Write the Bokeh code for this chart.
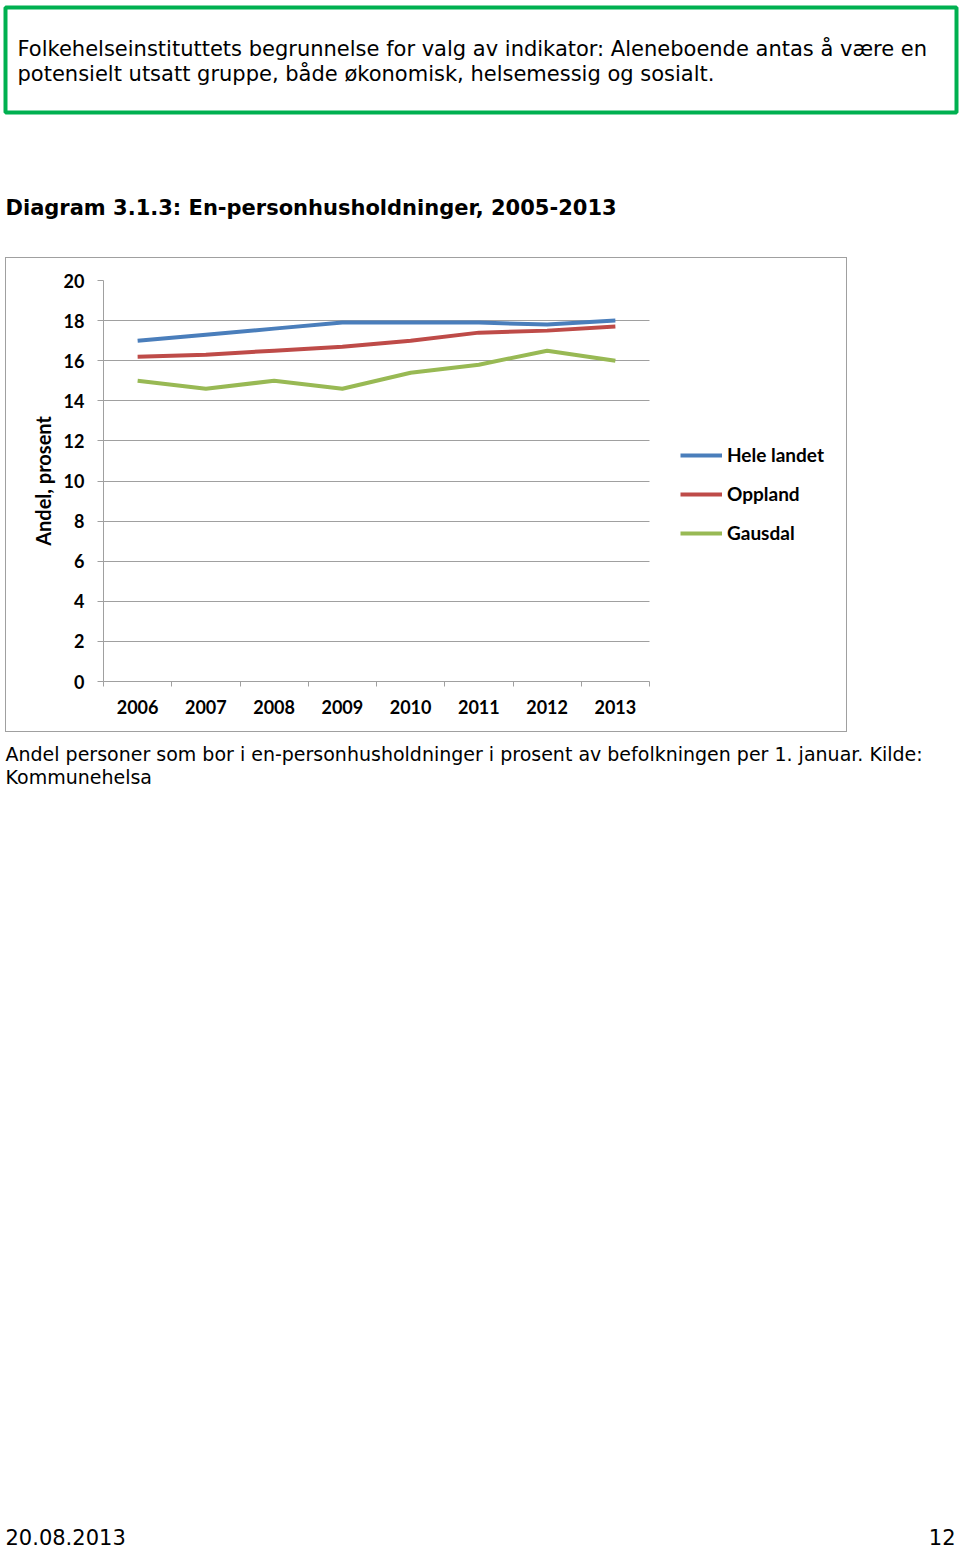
from bokeh.plotting import figure
from bokeh.models import Range1d, FixedTicker, Legend, LegendItem, Spacer
from bokeh.layouts import column, row
from bokeh.core.properties import value
from bokeh.embed import file_html
from bokeh.resources import INLINE

# ---- data ----
years = [2006, 2007, 2008, 2009, 2010, 2011, 2012, 2013]
hele_landet = [17.0, 17.3, 17.6, 17.9, 17.9, 17.9, 17.8, 18.0]
oppland = [16.2, 16.3, 16.5, 16.7, 17.0, 17.4, 17.5, 17.7]
gausdal = [15.0, 14.6, 15.0, 14.6, 15.4, 15.8, 16.5, 16.0]
series_names = ["Hele landet", "Oppland", "Gausdal"]
y_ticks = [0, 2, 4, 6, 8, 10, 12, 14, 16, 18, 20]

header_lines = ["Folkehelseinstituttets begrunnelse for valg av indikator: Aleneboende antas å være en",
                "potensielt utsatt gruppe, både økonomisk, helsemessig og sosialt."]
title_text = "Diagram 3.1.3: En-personhusholdninger, 2005-2013"
caption_lines = ["Andel personer som bor i en-personhusholdninger i prosent av befolkningen per 1. januar. Kilde:",
                 "Kommunehelsa"]
footer_left = "20.08.2013"
footer_right = "12"

BLUE, RED, GREEN = "#4a7ebb", "#be4b48", "#98b954"
GRID = "#a0a0a0"
CHART_FONT = "Lato"
TEXT_FONT = "DejaVu Sans"
PAGE_W = 960
BASE_SHIFT = 7   # svg alphabetic baseline correction


def blank(height, y0, y1):
    f = figure(width=PAGE_W, height=height, output_backend="svg", toolbar_location=None,
               x_range=Range1d(0, PAGE_W), y_range=Range1d(y1, y0),
               x_axis_type=None, y_axis_type=None,
               min_border=0, min_border_left=0, min_border_right=0,
               min_border_top=0, min_border_bottom=0)
    f.grid.visible = False
    f.outline_line_color = None
    f.background_fill_color = "white"
    f.border_fill_color = "white"
    return f


def txt(f, s, x, y, size, bold=False, align="left"):
    f.text(x=[x], y=[y - BASE_SHIFT], text=[s], text_font=value(TEXT_FONT), text_font_size=size,
           text_font_style="bold" if bold else "normal", text_align=align,
           text_baseline="alphabetic", text_color="black")


# ---- header (page y 0..257) ----
top = blank(257, 0, 257)
top.quad(left=[5], right=[956], top=[7], bottom=[112], fill_alpha=0,
         line_color="#00b050", line_width=4)
txt(top, header_lines[0], 17, 55, "21px")
txt(top, header_lines[1], 17, 80, "21px")
txt(top, title_text, 5, 214, "21px", bold=True)

# ---- chart (page y 257..734) ----
CW, CH = 842, 475
FRAME_L, DATA_R = 97, 643          # frame left and right end of data area (inner px)
frame_w = CW - FRAME_L
x0, x1 = years[0] - 0.5, years[-1] + 0.5
x_end = x0 + (x1 - x0) * frame_w / (DATA_R - FRAME_L)

p = figure(width=CW, height=CH, output_backend="svg", toolbar_location=None,
           x_range=Range1d(x0, x_end), y_range=Range1d(0, 20),
           min_border_left=FRAME_L, min_border_right=0,
           min_border_top=22, min_border_bottom=CH - 423,
           styles={"border": "1px solid " + GRID})
p.outline_line_color = None
p.background_fill_color = "white"
p.border_fill_color = "white"

lines = []
for vals, col in zip([hele_landet, oppland, gausdal], [BLUE, RED, GREEN]):
    lines.append(p.line(years, vals, line_color=col, line_width=4))

xa = p.xaxis[0]
xa.bounds = (x0, x1)
xa.ticker = FixedTicker(ticks=years, minor_ticks=[y - 0.5 for y in years] + [x1])
xa.major_tick_out = 0
xa.major_tick_in = 0
xa.minor_tick_out = 5
xa.minor_tick_in = 0
xa.minor_tick_line_color = GRID
xa.axis_line_color = GRID
xa.major_label_standoff = 13
xa.major_label_text_font = CHART_FONT
xa.major_label_text_font_style = "bold"
xa.major_label_text_font_size = "18px"
xa.major_label_text_color = "black"

ya = p.yaxis[0]
ya.ticker = FixedTicker(ticks=y_ticks)
ya.minor_tick_line_color = None
ya.major_tick_out = 6
ya.major_tick_in = 0
ya.major_tick_line_color = GRID
ya.axis_line_color = GRID
ya.major_label_standoff = 13
ya.major_label_text_font = CHART_FONT
ya.major_label_text_font_style = "bold"
ya.major_label_text_font_size = "18px"
ya.major_label_text_color = "black"
ya.axis_label = "Andel, prosent"
ya.axis_label_text_font = CHART_FONT
ya.axis_label_text_font_style = "bold"
ya.axis_label_text_font_size = "20px"
ya.axis_label_text_color = "black"
ya.axis_label_standoff = 6

p.xgrid.grid_line_color = None
p.ygrid.grid_line_color = GRID
p.ygrid.grid_line_width = 1
try:
    p.ygrid[0].cross_bounds = (x0, x1)
except Exception:
    pass

legend = Legend(items=[LegendItem(label=n, renderers=[r]) for n, r in zip(series_names, lines)],
                location=(577, 137), glyph_width=42, glyph_height=20, label_height=20,
                label_standoff=5, spacing=16, padding=0, margin=0,
                border_line_color=None, background_fill_alpha=0,
                label_text_font=CHART_FONT, label_text_font_style="bold",
                label_text_font_size="19px", label_text_color="black")
p.add_layout(legend, "center")

chart_row = row(Spacer(width=5, height=CH + 2), p)

# ---- caption and footer (page y 734..1548) ----
bottom = blank(814, 734, 1548)
txt(bottom, caption_lines[0], 5, 760, "19px")
txt(bottom, caption_lines[1], 5, 783, "19px")
txt(bottom, footer_left, 5, 1543, "21px")
txt(bottom, footer_right, 955, 1543, "21px", align="right")

page = column(top, chart_row, bottom)
open("out.html", "w").write(file_html(page, INLINE))
